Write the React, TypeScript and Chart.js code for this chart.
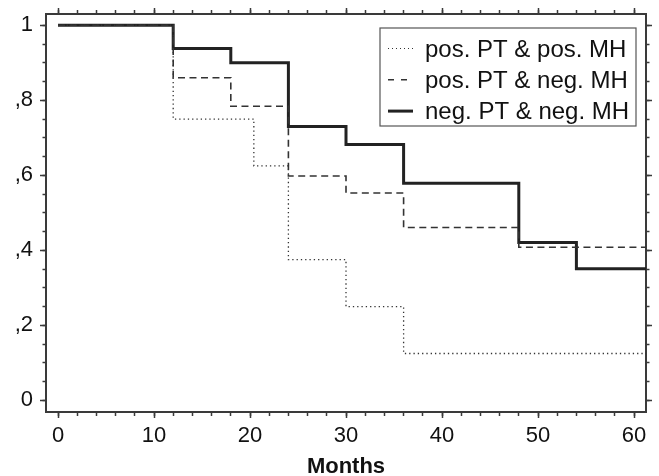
import React, { useEffect, useRef } from "react";
import { Chart, registerables } from "chart.js";

Chart.register(...registerables);

// ---- data ----
const seriesLabels = ["pos. PT & pos. MH", "pos. PT & neg. MH", "neg. PT & neg. MH"];

const monthsPosPosMH = [0, 12, 20.4, 24, 30, 36, 62];
const survPosPosMH = [1, 0.75, 0.625, 0.375, 0.25, 0.125, 0.125];

const monthsPosNegMH = [0, 12, 18, 24, 30, 36, 48, 62];
const survPosNegMH = [1, 0.86, 0.784, 0.598, 0.553, 0.461, 0.408, 0.408];

const monthsNegNegMH = [0, 12, 18, 24, 30, 36, 48, 54, 62];
const survNegNegMH = [1, 0.938, 0.9, 0.73, 0.682, 0.579, 0.421, 0.351, 0.351];

const xTickValues = [0, 10, 20, 30, 40, 50, 60];
const yTickLabels = ["0", ",2", ",4", ",6", ",8", "1"];
const xTitle = "Months";

// ---- axis ranges ----
const X_MIN = -1.25;
const X_MAX = 61.25;
const Y_MIN = -0.031;
const Y_MAX = 1.03;

const FONT = "'Liberation Sans', Arial, Helvetica, sans-serif";
const FRAME = "#3a3a3a";

const toPoints = (xs: number[], ys: number[]) => xs.map((x, i) => ({ x, y: ys[i] }));

const legendBoxPlugin = {
  id: "legendBox",
  afterDraw(chart: any) {
    const { ctx, chartArea } = chart;
    const w = 256;
    const h = 98;
    const left = chartArea.right - 10 - w;
    const top = chartArea.top + 14;
    ctx.save();
    ctx.fillStyle = "#ffffff";
    ctx.fillRect(left, top, w, h);
    ctx.strokeStyle = "#555555";
    ctx.lineWidth = 1.2;
    ctx.strokeRect(left, top, w, h);
    ctx.font = `24px ${FONT}`;
    ctx.textBaseline = "alphabetic";
    ctx.textAlign = "left";
    chart.data.datasets.forEach((ds: any, i: number) => {
      const baseY = top + 28.5 + i * 31.3;
      const lineY = baseY - 8;
      ctx.save();
      ctx.strokeStyle = ds.borderColor;
      ctx.lineWidth = ds.legendWidth ?? ds.borderWidth;
      ctx.setLineDash(ds.legendDash ?? ds.borderDash ?? []);
      ctx.beginPath();
      ctx.moveTo(left + 8, lineY);
      ctx.lineTo(left + 33, lineY);
      ctx.stroke();
      ctx.restore();
      ctx.fillStyle = "#111111";
      ctx.fillText(ds.label, left + 45, baseY);
    });
    ctx.restore();
  },
};

const zeroPad = (s: any) => {
  s.paddingTop = 0;
  s.paddingBottom = 0;
  s.paddingLeft = 0;
  s.paddingRight = 0;
};

function xAxis(position: "top" | "bottom", major: boolean, size: number, withLabels: boolean) {
  return {
    type: "linear",
    position,
    min: X_MIN,
    max: X_MAX,
    weight: major ? 1 : 0,
    ticks: {
      stepSize: major ? 10 : 2,
      includeBounds: false,
      display: withLabels,
      autoSkip: false,
      maxRotation: 0,
      padding: 5,
      color: "#111111",
      font: { family: FONT, size: 22 },
      callback: (v: number) => {
        const idx = xTickValues.indexOf(Math.round(v));
        return idx >= 0 ? String(xTickValues[idx]) : "";
      },
    },
    grid: {
      drawOnChartArea: false,
      drawTicks: true,
      tickLength: major ? 6 : 4,
      tickColor: FRAME,
      tickWidth: 1.5,
    },
    border: { display: major, color: FRAME, width: 2 },
    title: withLabels
      ? {
          display: true,
          text: xTitle,
          color: "#111111",
          font: { family: FONT, size: 22, weight: "bold", lineHeight: 0.8 },
          padding: { top: 0, bottom: 0 },
        }
      : { display: false },
    afterFit: (s: any) => {
      s.height = size;
      zeroPad(s);
    },
  };
}

function yAxis(position: "left" | "right", major: boolean, size: number, withLabels: boolean) {
  return {
    type: "linear",
    position,
    min: Y_MIN,
    max: Y_MAX,
    weight: major ? 1 : 0,
    ticks: {
      stepSize: major ? 0.2 : 0.05,
      includeBounds: false,
      display: withLabels,
      autoSkip: false,
      padding: 7,
      color: "#111111",
      font: { family: FONT, size: 22 },
      callback: (v: number) => {
        const k = Math.round(v * 5);
        if (Math.abs(v * 5 - k) > 1e-6) return "";
        return yTickLabels[k] ?? "";
      },
    },
    grid: {
      drawOnChartArea: false,
      drawTicks: true,
      tickLength: major ? 6 : 3.5,
      tickColor: FRAME,
      tickWidth: 1.5,
    },
    border: { display: major, color: FRAME, width: 2 },
    afterFit: (s: any) => {
      s.width = size;
      zeroPad(s);
    },
  };
}

export default function App() {
  const canvasRef = useRef<HTMLCanvasElement | null>(null);

  useEffect(() => {
    if (!canvasRef.current) return;
    const chart = new Chart(canvasRef.current, {
      type: "line",
      data: {
        datasets: [
          {
            label: seriesLabels[0],
            data: toPoints(monthsPosPosMH, survPosPosMH),
            stepped: true,
            borderColor: "#333333",
            borderWidth: 1.3,
            borderDash: [1.3, 3],
            legendDash: [1, 3],
            legendWidth: 1,
            pointRadius: 0,
            fill: false,
            xAxisID: "x",
            yAxisID: "y",
          } as any,
          {
            label: seriesLabels[1],
            data: toPoints(monthsPosNegMH, survPosNegMH),
            stepped: true,
            borderColor: "#333333",
            borderWidth: 1.6,
            borderDash: [7, 4.5],
            legendDash: [6, 7],
            pointRadius: 0,
            fill: false,
            xAxisID: "x",
            yAxisID: "y",
          } as any,
          {
            label: seriesLabels[2],
            data: toPoints(monthsNegNegMH, survNegNegMH),
            stepped: true,
            borderColor: "#222222",
            borderWidth: 3,
            borderDash: [],
            pointRadius: 0,
            fill: false,
            xAxisID: "x",
            yAxisID: "y",
          } as any,
        ],
      },
      options: {
        responsive: false,
        animation: false,
        devicePixelRatio: 1,
        layout: { padding: 0 },
        plugins: {
          legend: { display: false },
          tooltip: { enabled: false },
        },
        scales: {
          x: xAxis("bottom", true, 64, true),
          xMinor: xAxis("bottom", false, 0, false),
          xTop: xAxis("top", true, 14, false),
          xTopMinor: xAxis("top", false, 0, false),
          y: yAxis("left", true, 46, true),
          yMinor: yAxis("left", false, 0, false),
          yRight: yAxis("right", true, 13, false),
          yRightMinor: yAxis("right", false, 0, false),
        } as any,
      },
      plugins: [legendBoxPlugin],
    });
    return () => chart.destroy();
  }, []);

  return (
    <div style={{ position: "absolute", left: 0, top: 0, width: 659, height: 476, background: "#fff" }}>
      <canvas ref={canvasRef} width={659} height={476} style={{ display: "block" }} />
    </div>
  );
}
